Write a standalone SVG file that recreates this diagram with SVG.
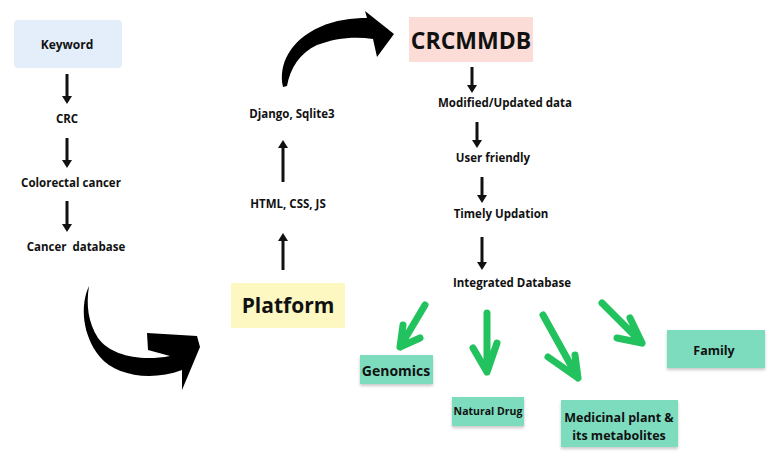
<svg xmlns="http://www.w3.org/2000/svg" width="773" height="460" viewBox="0 0 773 460">
<defs>
<style>
.t{font-family:"Open Sans","Liberation Sans",sans-serif;font-weight:bold;fill:#111;text-anchor:middle;dominant-baseline:central}
.s{font-size:11.5px}
.blk{stroke:#111;stroke-width:3;fill:none}
.g{stroke:#22c25e;stroke-width:7;stroke-linecap:round;stroke-linejoin:round;fill:none}
.gb{fill:#7ddcbe}
</style>
<marker id="ah" viewBox="0 0 8 10" refX="2" refY="5" markerWidth="8" markerHeight="10" markerUnits="userSpaceOnUse" orient="auto">
<path d="M0 0 L8 5 L0 10 Z" fill="#111"/>
</marker>
<filter id="sh" x="-10%" y="-20%" width="120%" height="150%">
<feDropShadow dx="0" dy="2" stdDeviation="1.5" flood-color="#888" flood-opacity="0.45"/>
</filter>
</defs>
<rect width="773" height="460" fill="#fff"/>

<g id="keyword"><rect x="14" y="20" width="108" height="48" rx="4" fill="#e4eefb"/><text class="t" x="67" y="44" font-size="12">Keyword</text></g>
<g id="crc"><text class="t s" x="67" y="118">CRC</text></g>
<g id="colorectal"><text class="t s" x="71" y="182">Colorectal cancer</text></g>
<g id="cancerdb"><text class="t s" x="76" y="246" xml:space="preserve">Cancer  database</text></g>
<g id="platform"><rect x="231" y="283" width="114" height="45" fill="#fdf8c2"/><text class="t" x="288" y="305" font-size="21">Platform</text></g>
<g id="htmlcss"><text class="t s" x="288" y="203">HTML, CSS, JS</text></g>
<g id="django"><text class="t s" x="292" y="113">Django, Sqlite3</text></g>
<g id="crcmmdb"><rect x="409" y="17" width="124" height="45" fill="#fbdcd6"/><text class="t" x="471" y="40" font-size="23">CRCMMDB</text></g>
<g id="modified"><text class="t s" x="505" y="102">Modified/Updated data</text></g>
<g id="userfriendly"><text class="t s" x="493" y="157">User friendly</text></g>
<g id="timely"><text class="t s" x="501" y="213">Timely Updation</text></g>
<g id="integrated"><text class="t s" x="512" y="282">Integrated Database</text></g>
<g id="genomics"><rect class="gb" x="360" y="355" width="73" height="29" filter="url(#sh)"/><text class="t" x="396" y="370" font-size="14">Genomics</text></g>
<g id="naturaldrug"><rect class="gb" x="452" y="397" width="72" height="29" filter="url(#sh)"/><text class="t" x="488" y="411" font-size="10.5">Natural Drug</text></g>
<g id="medicinal"><rect class="gb" x="561" y="400" width="117" height="47" filter="url(#sh)"/><text class="t" x="619" y="417" font-size="12.5">Medicinal plant &amp;</text><text class="t" x="619" y="435" font-size="12.5">its metabolites</text></g>
<g id="family"><rect class="gb" x="667" y="330" width="98" height="38" filter="url(#sh)"/><text class="t" x="714" y="350" font-size="12.5">Family</text></g>

<g id="connectors">
<line class="blk" x1="67" y1="74" x2="67" y2="98" marker-end="url(#ah)"/>
<line class="blk" x1="67" y1="138" x2="67" y2="162" marker-end="url(#ah)"/>
<line class="blk" x1="67" y1="201" x2="67" y2="226" marker-end="url(#ah)"/>
<line class="blk" x1="283" y1="270" x2="283" y2="239" marker-end="url(#ah)"/>
<line class="blk" x1="283" y1="182" x2="283" y2="146" marker-end="url(#ah)"/>
<line class="blk" x1="472" y1="67" x2="472" y2="87" stroke-width="2.2" marker-end="url(#ah)"/>
<line class="blk" x1="477" y1="122" x2="477" y2="142" stroke-width="2.2" marker-end="url(#ah)"/>
<line class="blk" x1="482" y1="177" x2="482" y2="197" stroke-width="2.2" marker-end="url(#ah)"/>
<line class="blk" x1="482" y1="237" x2="482" y2="264" stroke-width="3.2" marker-end="url(#ah)"/>
<path d="M89 286 C80 305 82 335 100 357 C115 375 150 382 182 370 L182 390 L200 347 L197 336 L147 333 L148 350 L170 356 C140 362 110 355 98 338 C88 322 86 305 89 286 Z" fill="#000"/>
<path d="M283 87 C278 65 290 40 320 27 C335 20 352 18 367 18 L365 11 L394 34 L377 57 L373 39 C355 36 335 38 317 45 C300 53 290 68 287 86 Z" fill="#000"/>
<path class="g" d="M425 305 L400 347 M403 325 L400 347 L420 338"/>
<path class="g" d="M487 313 L487 372 M473 348 L487 372 L497 343"/>
<path class="g" d="M543 315 L578 378 M548 357 L578 378 L575 355" stroke-width="8"/>
<path class="g" d="M602 303 L642 343 M617 338 L642 343 L630 318"/>
</g>
</svg>
